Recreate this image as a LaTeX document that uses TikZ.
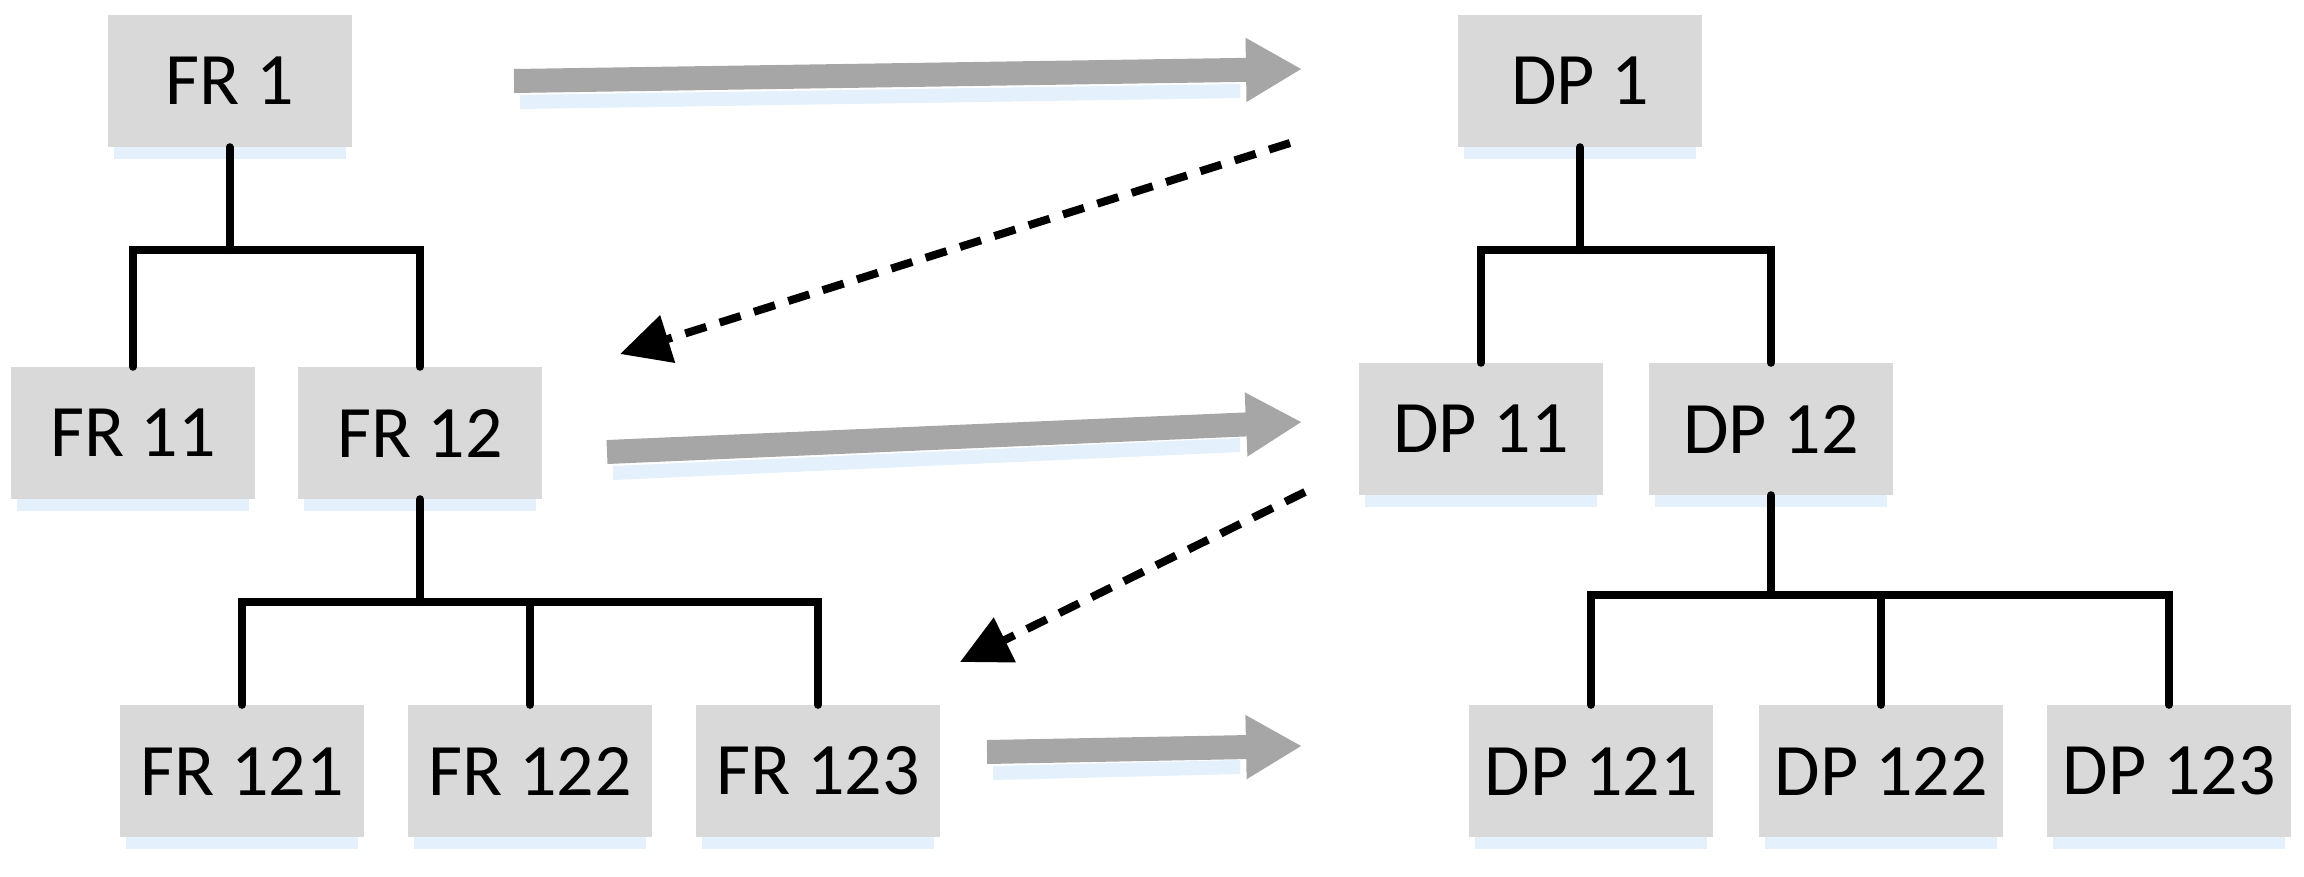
\documentclass[tikz,border=0pt]{standalone}
\usepackage{fontspec}
\setmainfont{Carlito}
\usetikzlibrary{arrows.meta}
\definecolor{boxg}{RGB}{217,217,217}
\definecolor{shad}{RGB}{228,240,251}
\definecolor{arrg}{RGB}{166,166,166}
\begin{document}
\begin{tikzpicture}[x=1pt,y=-1pt,
  box/.style={fill=boxg,minimum width=244pt,minimum height=132pt,inner sep=0pt,
    font=\fontsize{74}{86}\selectfont},
  tree/.style={line width=8pt,line cap=round},
  fat/.style={draw=arrg,line width=24pt,-{Triangle[length=56pt,width=60pt]}},
  dsh/.style={line width=8pt,dash pattern=on 22pt off 14pt,-{Triangle[length=50pt,width=48pt]}}]
\useasboundingbox (0,0) rectangle (2304,876);
\newcommand{\bx}[4]{%
  \fill[shad] (#2-116,#3-58) rectangle (#2+116,#3+78);
  \node[box] (#1) at (#2,#3) {#4};}
\bx{fr1}{229.5}{81}{FR 1}
\bx{fr11}{133}{433}{FR 11}
\bx{fr12}{420}{433}{FR 12}
\bx{fr121}{242}{771}{FR 121}
\bx{fr122}{530}{771}{FR 122}
\bx{fr123}{818}{771}{FR 123}
\bx{dp1}{1580}{81}{DP 1}
\bx{dp11}{1481}{429}{DP 11}
\bx{dp12}{1771}{429}{DP 12}
\bx{dp121}{1591}{771}{DP 121}
\bx{dp122}{1881}{771}{DP 122}
\bx{dp123}{2169}{771}{DP 123}
\coordinate (b1) at (229.5,250);
\coordinate (b2) at (420,602);
\coordinate (b3) at (1580,250);
\coordinate (b4) at (1771,595);
\draw[tree] (fr1.south) -- (b1);
\draw[tree] (fr11.north) |- (b1) -| (fr12.north);
\draw[tree] (fr12.south) -- (b2);
\draw[tree] (fr121.north) |- (b2) -| (fr123.north);
\draw[tree] (fr122.north) -- (fr122.north |- b2);
\draw[tree] (dp1.south) -- (b3);
\draw[tree] (dp11.north) |- (b3) -| (dp12.north);
\draw[tree] (dp12.south) -- (b4);
\draw[tree] (dp121.north) |- (b4) -| (dp123.north);
\draw[tree] (dp122.north) -- (dp122.north |- b4);
\coordinate (a1s) at (514,81); \coordinate (a1e) at (1302,69);
\coordinate (a2s) at (607,452); \coordinate (a2e) at (1302,422);
\coordinate (a3s) at (987,752); \coordinate (a3e) at (1302,746);
\fill[shad] (520,95) -- (1240,84) -- (1240,98) -- (520,109) -- cycle;
\fill[shad] (613,466) -- (1240,438) -- (1240,452) -- (613,480) -- cycle;
\fill[shad] (993,766) -- (1240,760) -- (1240,774) -- (993,780) -- cycle;
\draw[fat] (a1s) -- (a1e);
\draw[fat] (a2s) -- (a2e);
\draw[fat] (a3s) -- (a3e);
\coordinate (d1s) at (1290,143); \coordinate (d1e) at (620,354);
\coordinate (d2s) at (1305,492); \coordinate (d2e) at (960,662);
\draw[dsh] (d1s) -- (d1e);
\draw[dsh] (d2s) -- (d2e);
\end{tikzpicture}
\end{document}
